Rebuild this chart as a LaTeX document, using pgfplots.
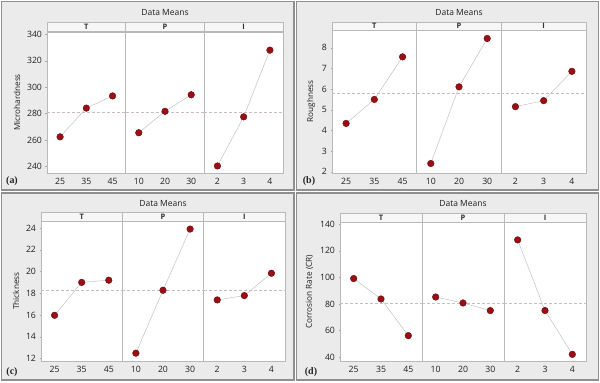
\documentclass[border=0pt]{standalone}
\usepackage{pgfplots}
\pgfplotsset{compat=1.18}
\usepackage{fontspec}
\setmainfont{Open Sans}
\newfontfamily\seriffont{Liberation Serif}
\definecolor{panelbg}{HTML}{EBEBEB}
\definecolor{frame}{HTML}{8F8F8F}
\definecolor{mred}{HTML}{9A0E14}
\definecolor{mredd}{HTML}{640909}
\definecolor{hdr}{HTML}{F7F7F7}
\definecolor{meanc}{HTML}{C9BDBD}
\pgfplotsset{
  sub/.style={scale only axis, anchor=south west, xmin=0.5, xmax=3.5, xtick={1,2,3},
    axis line style={draw=gray!55}, tick style={draw=gray!70, thin},
    tick align=outside, major tick length=1.5pt,
    ticklabel style={font=\fontsize{8.7}{10}\selectfont, text=black!88},
    /pgf/number format/assume math mode=true,
    ylabel style={font=\fontsize{8.2}{10}\selectfont, text=black!88},
    xtick pos=bottom, ytick pos=left, axis background/.style={fill=white}},
  noy/.style={ytick=\empty},
  ser/.style={color=gray!55, thin, mark=*, mark size=3.3pt, mark options={fill=mred, draw=mredd, line width=0.4pt}},
  mean/.style={color=meanc, densely dashed, thin}
}
\begin{document}
\begin{tikzpicture}[x=1pt,y=1pt]
\path[use as bounding box] (0,0) rectangle (600,383);
% panel backgrounds
\draw[fill=panelbg, draw=frame, line width=1.2pt] (1.5,193) rectangle (294,381.5);
\draw[fill=panelbg, draw=frame, line width=1.2pt] (296.5,193) rectangle (598.5,381.5);
\draw[fill=panelbg, draw=frame, line width=1.2pt] (1.5,3) rectangle (294,190);
\draw[fill=panelbg, draw=frame, line width=1.2pt] (296.5,3) rectangle (598.5,190);

% ===== (a) Microhardness =====
\begin{axis}[sub, at={(47pt,210pt)}, width=78.67pt, height=141pt, ymin=235.2, ymax=341.7, ytick={240,260,280,300,320,340}, xticklabels={25,35,45}, ylabel={Microhardness}]
\addplot[mean] coordinates {(0.5,280.8) (3.5,280.8)};
\addplot[ser] coordinates {(1,262.5) (2,284.2) (3,293.4)};
\end{axis}
\begin{axis}[sub, noy, at={(125.67pt,210pt)}, width=78.67pt, height=141pt, ymin=235.2, ymax=341.7, xticklabels={10,20,30}]
\addplot[mean] coordinates {(0.5,280.8) (3.5,280.8)};
\addplot[ser] coordinates {(1,265.6) (2,281.8) (3,294.3)};
\end{axis}
\begin{axis}[sub, noy, at={(204.33pt,210pt)}, width=78.67pt, height=141pt, ymin=235.2, ymax=341.7, xticklabels={2,3,4}]
\addplot[mean] coordinates {(0.5,280.8) (3.5,280.8)};
\addplot[ser] coordinates {(1,240.5) (2,277.6) (3,328.0)};
\end{axis}

% ===== (b) Roughness =====
\begin{axis}[sub, at={(332pt,210pt)}, width=84.67pt, height=143pt, ymin=1.94, ymax=8.86, ytick={2,3,4,5,6,7,8}, xticklabels={25,35,45}, ylabel={Roughness}]
\addplot[mean] coordinates {(0.5,5.78) (3.5,5.78)};
\addplot[ser] coordinates {(1,4.34) (2,5.50) (3,7.56)};
\end{axis}
\begin{axis}[sub, noy, at={(416.67pt,210pt)}, width=84.67pt, height=143pt, ymin=1.94, ymax=8.86, xticklabels={10,20,30}]
\addplot[mean] coordinates {(0.5,5.78) (3.5,5.78)};
\addplot[ser] coordinates {(1,2.40) (2,6.11) (3,8.45)};
\end{axis}
\begin{axis}[sub, noy, at={(501.33pt,210pt)}, width=84.67pt, height=143pt, ymin=1.94, ymax=8.86, xticklabels={2,3,4}]
\addplot[mean] coordinates {(0.5,5.78) (3.5,5.78)};
\addplot[ser] coordinates {(1,5.15) (2,5.44) (3,6.86)};
\end{axis}

% ===== (c) Thickness =====
\begin{axis}[sub, at={(41pt,22pt)}, width=81.33pt, height=140pt, ymin=11.78, ymax=24.64, ytick={12,14,16,18,20,22,24}, xticklabels={25,35,45}, ylabel={Thickness}]
\addplot[mean] coordinates {(0.5,18.31) (3.5,18.31)};
\addplot[ser] coordinates {(1,15.98) (2,19.0) (3,19.2)};
\end{axis}
\begin{axis}[sub, noy, at={(122.33pt,22pt)}, width=81.33pt, height=140pt, ymin=11.78, ymax=24.64, xticklabels={10,20,30}]
\addplot[mean] coordinates {(0.5,18.31) (3.5,18.31)};
\addplot[ser] coordinates {(1,12.5) (2,18.28) (3,23.9)};
\end{axis}
\begin{axis}[sub, noy, at={(203.67pt,22pt)}, width=81.33pt, height=140pt, ymin=11.78, ymax=24.64, xticklabels={2,3,4}]
\addplot[mean] coordinates {(0.5,18.31) (3.5,18.31)};
\addplot[ser] coordinates {(1,17.39) (2,17.79) (3,19.84)};
\end{axis}

% ===== (d) Corrosion Rate =====
\begin{axis}[sub, at={(340pt,22pt)}, width=82pt, height=138.5pt, ymin=37, ymax=141.3, ytick={40,60,80,100,120,140}, xticklabels={25,35,45}, ylabel={Corrosion Rate (CR)}]
\addplot[mean] coordinates {(0.5,80.7) (3.5,80.7)};
\addplot[ser] coordinates {(1,99.1) (2,83.7) (3,56.1)};
\end{axis}
\begin{axis}[sub, noy, at={(422pt,22pt)}, width=82pt, height=138.5pt, ymin=37, ymax=141.3, xticklabels={10,20,30}]
\addplot[mean] coordinates {(0.5,80.7) (3.5,80.7)};
\addplot[ser] coordinates {(1,85.2) (2,80.7) (3,75.0)};
\end{axis}
\begin{axis}[sub, noy, at={(504pt,22pt)}, width=82pt, height=138.5pt, ymin=37, ymax=141.3, xticklabels={2,3,4}]
\addplot[mean] coordinates {(0.5,80.7) (3.5,80.7)};
\addplot[ser] coordinates {(1,128.2) (2,75.0) (3,42.0)};
\end{axis}

% headers
\tikzset{hd/.style={fill=hdr, draw=gray!55, thin}, hl/.style={font=\fontsize{7.5}{8}\selectfont\bfseries, text=black!80}}
\foreach \x/\l in {47/T,125.67/P,204.33/I} {\draw[hd] (\x,352) rectangle ++(78.67,8.5); \node[hl] at (\x+39.3,356.2) {\l};}
\foreach \x/\l in {332/T,416.67/P,501.33/I} {\draw[hd] (\x,353) rectangle ++(84.67,7.5); \node[hl] at (\x+42.3,356.7) {\l};}
\foreach \x/\l in {41/T,122.33/P,203.67/I} {\draw[hd] (\x,162) rectangle ++(81.33,8.5); \node[hl] at (\x+40.7,166.2) {\l};}
\foreach \x/\l in {340/T,422/P,504/I} {\draw[hd] (\x,160.5) rectangle ++(82,9.5); \node[hl] at (\x+41,165.2) {\l};}

% titles
\tikzset{tt/.style={font=\fontsize{8.5}{10}\selectfont, text=black!88}}
\node[tt] at (165,370.3) {Data Means};
\node[tt] at (459,370.3) {Data Means};
\node[tt] at (163,179) {Data Means};
\node[tt] at (463,179) {Data Means};

% panel labels
\tikzset{pl/.style={font=\seriffont\bfseries\fontsize{10}{12}\selectfont, text=black!85}}
\node[pl] at (12,201.5) {(a)};
\node[pl] at (309,201.5) {(b)};
\node[pl] at (12,11.3) {(c)};
\node[pl] at (311,11.3) {(d)};
\end{tikzpicture}
\end{document}
